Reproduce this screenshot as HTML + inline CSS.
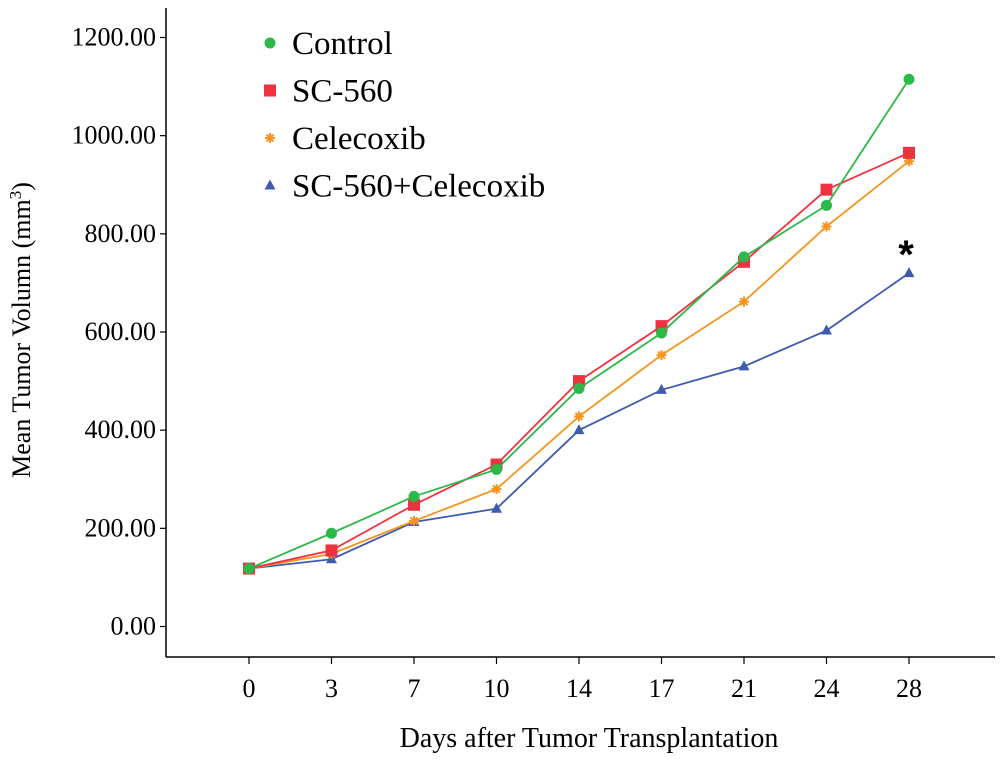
<!DOCTYPE html>
<html><head><meta charset="utf-8"><style>
body{margin:0;background:#fff;}
svg{display:block;font-family:"Liberation Serif",serif;}
</style></head><body>
<svg id="chart" width="1000" height="761" viewBox="0 0 1000 761">
<g id="axes"></g><g id="series"></g><g id="legend"></g>
<text transform="translate(30,330) rotate(-90)" text-anchor="middle" font-size="26">Mean Tumor Volumn (mm<tspan dy="-9" font-size="17">3</tspan><tspan dy="9">)</tspan></text>
<text x="589" y="747" text-anchor="middle" font-size="28">Days after Tumor Transplantation</text>
<text x="906" y="268" text-anchor="middle" font-size="40" font-weight="bold" font-family="Liberation Sans, sans-serif">*</text>
</svg>
<script>
const days = ["0","3","7","10","14","17","21","24","28"];
const yTicks = [0,200,400,600,800,1000,1200];
const control = [118,190,265,320,485,598,753,858,1115];
const sc560 = [118,155,248,330,500,612,743,890,965];
const celecoxib = [118,148,215,280,428,553,662,815,948];
const combo = [118,137,213,240,400,482,530,603,720];

const NS="http://www.w3.org/2000/svg";
function mk(t,a,p){const e=document.createElementNS(NS,t);for(const k in a)e.setAttribute(k,a[k]);p.appendChild(e);return e;}
const xS=i=>249+i*82.5;
const yS=v=>626.5-v*(589/1200);
const axes=document.getElementById('axes');
const ya=mk('line',{x1:166,y1:8,x2:166,y2:657,stroke:'#000','stroke-width':1.5},axes);


const xa=mk('line',{x1:166,y1:657,x2:995,y2:657,stroke:'#000','stroke-width':1.5},axes);


yTicks.forEach(v=>{
  mk('line',{x1:160,y1:yS(v),x2:166,y2:yS(v),stroke:'#000','stroke-width':1.2},axes);
  const t=mk('text',{x:156,y:yS(v)+8,'text-anchor':'end','font-size':26},axes);
  t.textContent=v.toFixed(2);
  
  
});
days.forEach((d,i)=>{
  mk('line',{x1:xS(i),y1:657,x2:xS(i),y2:664,stroke:'#000','stroke-width':1.2},axes);
  const t=mk('text',{x:xS(i),y:697,'text-anchor':'middle','font-size':26},axes);
  t.textContent=d;
  
  
});
function marker(type,x,y,c,p){
  if(type==='circle')return mk('circle',{cx:x,cy:y,r:5.5,fill:c},p);
  if(type==='square')return mk('rect',{x:x-6,y:y-6,width:12,height:12,fill:c},p);
  if(type==='tri')return mk('polygon',{points:`${x},${y-6} ${x-5.5},${y+4} ${x+5.5},${y+4}`,fill:c},p);
  const g=mk('g',{stroke:c,'stroke-width':2},p);
  for(let a=0;a<4;a++){const r=a*Math.PI/4;mk('line',{x1:x-5*Math.cos(r),y1:y-5*Math.sin(r),x2:x+5*Math.cos(r),y2:y+5*Math.sin(r)},g);}
  return g;
}
const seriesDefs=[
  ['control',control,'#2db84a','circle','Control'],
  ['sc560',sc560,'#ee3340','square','SC-560'],
  ['celecoxib',celecoxib,'#f7941d','star','Celecoxib'],
  ['combo',combo,'#3f5bb0','tri','SC-560+Celecoxib']
];
const sg=document.getElementById('series');
seriesDefs.slice().reverse().forEach(([n,vals,c,m])=>{
  const g=mk('g',{},sg);
  
  
  const l=mk('polyline',{points:vals.map((v,i)=>xS(i)+','+yS(v)).join(' '),fill:'none',stroke:c,'stroke-width':1.8},g);
  
  
  vals.forEach((v,i)=>{const e=marker(m,xS(i),yS(v),c,g);
    
    });
});
const lg=document.getElementById('legend');
seriesDefs.forEach(([n,vals,c,m,label],k)=>{
  const y=43+k*47.5;
  const g=mk('g',{},lg);
  
  
  marker(m,270,y,c,g);
  const t=mk('text',{x:292,y:y+11,'font-size':33},g);
  t.textContent=label;
});
</script>
</body></html>
